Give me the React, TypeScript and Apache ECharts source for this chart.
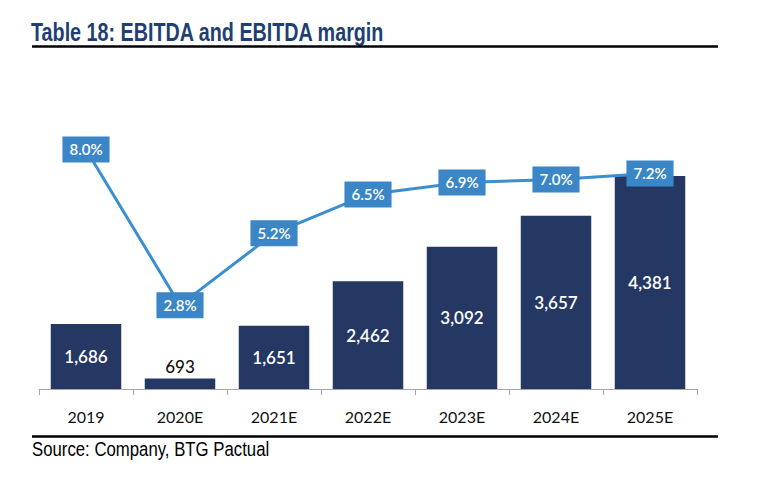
import React, { useEffect, useRef } from "react";
import * as echarts from "echarts";

const categories = ["2019", "2020E", "2021E", "2022E", "2023E", "2024E", "2025E"];
const ebitda = [1686, 693, 1651, 2462, 3092, 3657, 4381];
const margin = [8.0, 2.8, 5.2, 6.5, 6.9, 7.0, 7.2];
const titleText = "Table 18: EBITDA and EBITDA margin";
const sourceText = "Source: Company, BTG Pactual";

export default function App() {
  const ref = useRef<HTMLDivElement>(null);
  useEffect(() => {
    if (!ref.current) return;
    const chart = echarts.init(ref.current, null, { renderer: "svg" });
    const labelFont = "Lato, 'Open Sans', sans-serif";
    chart.setOption({
      animation: false,
      backgroundColor: "#ffffff",
      grid: { left: 39, right: 65, top: 142, bottom: 97, containLabel: false },
      xAxis: {
        type: "category",
        data: categories,
        boundaryGap: true,
        axisLine: { show: true, lineStyle: { color: "#a6a6a6", width: 1 } },
        axisTick: { show: true, length: 6, lineStyle: { color: "#a6a6a6" } },
        axisLabel: { color: "#111", fontSize: 16, fontFamily: labelFont, margin: 19 },
      },
      yAxis: [
        { type: "value", min: 500, max: 5000, show: false, splitLine: { show: false } },
        { type: "value", min: 0, max: 8.25, show: false, splitLine: { show: false } },
      ],
      series: [
        {
          type: "bar",
          yAxisIndex: 0,
          data: ebitda.map((v) => ({
            value: v,
            label:
              v < 1000
                ? { position: "top", color: "#111", distance: 3, fontWeight: 500 }
                : { position: "inside", color: "#ffffff" },
          })),
          barWidth: "75%",
          itemStyle: { color: "#253864" },
          label: {
            show: true,
            fontSize: 17,
            fontFamily: labelFont,
            fontWeight: 600,
            formatter: (p: any) => Number(p.value).toLocaleString("en-US"),
          },
          z: 2,
        },
        {
          type: "line",
          yAxisIndex: 1,
          data: margin,
          symbol: "circle",
          symbolSize: 1,
          lineStyle: { color: "#3a8fd0", width: 3 },
          itemStyle: { color: "#3a8fd0" },
          label: {
            show: true,
            position: "inside",
            color: "#ffffff",
            backgroundColor: "#3a86c6",
            padding: [6, 7, 5, 7],
            fontSize: 15,
            fontFamily: labelFont,
            fontWeight: 600,
            formatter: (p: any) => Number(p.value).toFixed(1) + "%",
          },
          z: 5,
        },
      ],
      graphic: [
        {
          type: "text",
          x: 31,
          y: 32.5,
          scaleX: 0.79,
          style: {
            text: titleText,
            fill: "#1f3f73",
            verticalAlign: "middle",
            font: "bold 25px 'Liberation Sans', Arial, sans-serif",
          },
        },
        { type: "line", shape: { x1: 32, y1: 46.5, x2: 718, y2: 46.5 }, style: { stroke: "#000", lineWidth: 2.5 } },
        { type: "line", shape: { x1: 32, y1: 436.5, x2: 718, y2: 436.5 }, style: { stroke: "#000", lineWidth: 2.5 } },
        {
          type: "text",
          x: 32,
          y: 450,
          scaleX: 0.86,
          style: {
            text: sourceText,
            fill: "#000",
            verticalAlign: "middle",
            font: "19.5px 'Liberation Sans', Arial, sans-serif",
          },
        },
      ],
    });
    return () => chart.dispose();
  }, []);
  return <div ref={ref} style={{ position: "absolute", left: 0, top: 0, width: 762, height: 486 }} />;
}
